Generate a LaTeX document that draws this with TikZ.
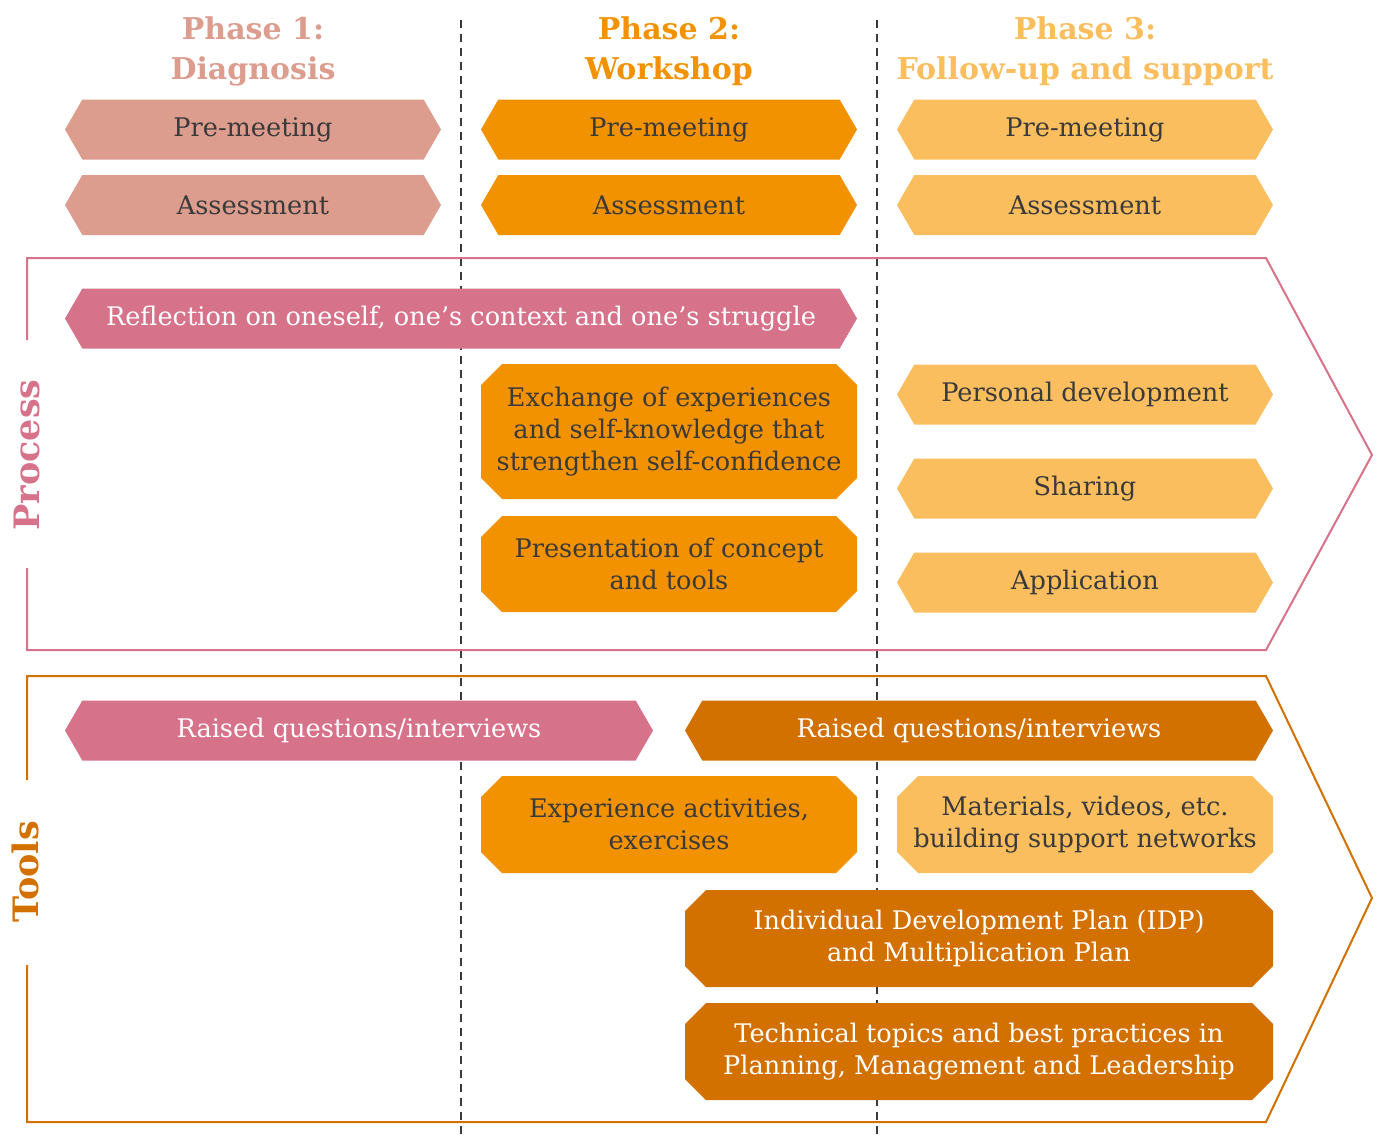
\documentclass[tikz,border=0pt]{standalone}
\usepackage{fontspec}
\setmainfont{DejaVu Serif}
\usetikzlibrary{shapes.symbols,shapes.misc}
\definecolor{phaseone}{HTML}{DC9C8E}
\definecolor{phasetwo}{HTML}{F39200}
\definecolor{phasethree}{HTML}{FABE5F}
\definecolor{rose}{HTML}{D6738A}
\definecolor{rust}{HTML}{D27000}
\definecolor{textdark}{HTML}{3A3A3A}
\newcommand{\boxfont}{\fontsize{12.8}{16}\selectfont}

\begin{document}
\begin{tikzpicture}[x=0.5pt,y=-0.5pt,
    hexbox/.style={signal, signal to=east and west, signal pointer angle=120,
      fill=#1, minimum height=30pt, minimum width=188pt, inner sep=0pt,
      align=center, font=\boxfont, text=textdark},
    octbox/.style={chamfered rectangle, chamfered rectangle xsep=5.25pt,
      chamfered rectangle ysep=5.25pt, fill=#1, minimum width=188pt,
      minimum height=48.5pt, inner sep=0pt, align=center, font=\boxfont,
      text=textdark},
    phasetitle/.style={text=#1, align=center,
      font=\fontsize{15}{20}\selectfont\bfseries},
    sidelabel/.style={text=#1, rotate=90, font=\fontsize{17.5}{18}\selectfont\bfseries},
    divider/.style={dashed, dash pattern=on 4pt off 3pt, line width=0.8pt, textdark}]
  \useasboundingbox (0,0) rectangle (1378,1140);
  \draw[divider] (461,20) -- (461,1140);
  \draw[divider] (877,20) -- (877,1140);
  \foreach \x/\c/\t [count=\i] in {253/phaseone/{Phase 1:\\Diagnosis},
      669/phasetwo/{Phase 2:\\Workshop},
      1085/phasethree/{Phase 3:\\Follow-up and support}} {
    \node[phasetitle=\c] (title\i) at (\x,51) {\t};
    \node[hexbox=\c] (pre\i) at (\x,129.5) {Pre-meeting};
    \node[hexbox=\c] (ass\i) at (\x,205) {Assessment};
  }
  % process
  \draw[rose, line width=1pt] (27,340) -- (27,258) -- (1266,258) -- (1372,455)
    -- (1266,650) -- (27,650) -- (27,568);
  \node[sidelabel=rose] (process) at (27,455) {Process};
  \node[hexbox=rose, minimum width=396pt, text=white] (reflect) at (461,318.5)
    {Reflection on oneself, one’s context and one’s struggle};
  \node[octbox=phasetwo, minimum height=67.5pt] (exchange) at (669,431.5)
    {Exchange of experiences\\and self-knowledge that\\strengthen self-confidence};
  \node[octbox=phasetwo, minimum height=48pt] (present) at (669,564)
    {Presentation of concept\\and tools};
  \node[hexbox=phasethree] (personal) at (1085,394.5) {Personal development};
  \node[hexbox=phasethree] (sharing) at (1085,488.5) {Sharing};
  \node[hexbox=phasethree] (apply) at (1085,582.5) {Application};
  % tools
  \draw[rust, line width=1pt] (27,780) -- (27,676) -- (1266,676) -- (1372,898)
    -- (1266,1122) -- (27,1122) -- (27,965);
  \node[sidelabel=rust] (tools) at (25,872) {Tools};
  \node[hexbox=rose, minimum width=294pt, text=white] (raised1) at (359,730.5)
    {Raised questions/interviews};
  \node[hexbox=rust, minimum width=294pt, text=white] (raised2) at (979,730.5)
    {Raised questions/interviews};
  \node[octbox=phasetwo] (experience) at (669,824.5)
    {Experience activities,\\exercises};
  \node[octbox=phasethree] (materials) at (1085,824.5)
    {Materials, videos, etc.\\building support networks};
  \node[octbox=rust, minimum width=294pt, text=white] (idp) at (979,938.5)
    {Individual Development Plan (IDP)\\and Multiplication Plan};
  \node[octbox=rust, minimum width=294pt, text=white] (technical) at (979,1051.5)
    {Technical topics and best practices in\\Planning, Management and Leadership};
\end{tikzpicture}
\end{document}
